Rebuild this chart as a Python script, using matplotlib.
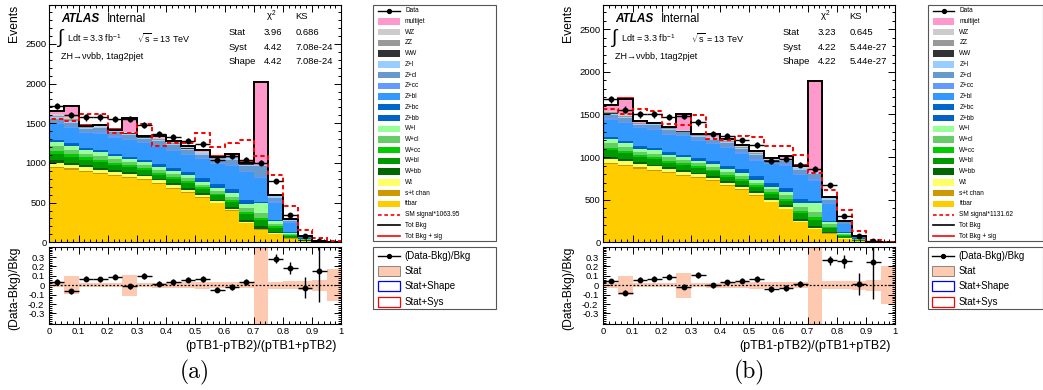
import numpy as np
import matplotlib
matplotlib.use("Agg")
import matplotlib.pyplot as plt
from matplotlib.patches import Rectangle
from matplotlib.lines import Line2D
from matplotlib.ticker import MultipleLocator, FixedLocator, FuncFormatter

plt.rcParams['font.family'] = ['Liberation Sans', 'DejaVu Sans']
plt.rcParams['mathtext.fontset'] = 'custom'
plt.rcParams['mathtext.rm'] = 'Liberation Sans'
plt.rcParams['mathtext.it'] = 'Liberation Sans:italic'
plt.rcParams['axes.unicode_minus'] = False

bin_edges = np.linspace(0, 1, 21)

# legend order (top of stack first)
samples = ["multijet", "WZ", "ZZ", "WW", "Z+l", "Z+cl", "Z+cc", "Z+bl", "Z+bc", "Z+bb",
           "W+l", "W+cl", "W+cc", "W+bl", "W+bb", "Wt", "s+t chan", "ttbar"]
colors = ["#ff99cc", "#cccccc", "#999999", "#333333", "#99ccff", "#6699cc", "#6699ff",
          "#3399ff", "#0066cc", "#0062c4", "#99ff99", "#66cc66", "#00cc00", "#009900",
          "#006600", "#ffff66", "#cc9900", "#ffcc00"]

# ---------------- panel (a) ----------------
a_data = [1720, 1603, 1574, 1574, 1549, 1549, 1478, 1365, 1323, 1282, 1240, 1031, 1085, 1040, 1002, 768, 347, 79, 12, 0]
a_ttbar = [940, 916, 888, 860, 837, 808, 780, 733, 677, 625, 564, 489, 395, 245, 160, 108, 47, 19, 3.8, 0.5]
a_stchan = [15, 15, 14, 14, 13, 13, 12, 12, 11, 10, 9, 8, 6, 4, 3, 2, 1, 0.3, 0.1, 0]
a_wt = [45, 44, 43, 41, 40, 39, 38, 35, 32, 30, 27, 23, 19, 11, 7, 5, 2, 0.7, 0.1, 0]
a_wbb = [31, 29, 26, 26, 23, 23, 22, 20, 21, 22, 19, 19, 23, 26, 30, 18, 8, 3, 0.2, 0.1]
a_wbl = [84, 77, 69, 70, 62, 61, 58, 54, 56, 58, 51, 51, 62, 70, 75, 48, 21, 8, 0.7, 0.1]
a_wcc = [36, 34, 30, 31, 27, 27, 25, 24, 25, 25, 22, 22, 27, 31, 35, 21, 9, 4, 0.3, 0.1]
a_wcl = [57, 53, 47, 48, 43, 42, 40, 37, 39, 40, 35, 35, 43, 48, 60, 33, 14, 5, 0.4, 0.1]
a_wl = [52, 47, 43, 45, 40, 37, 35, 35, 34, 35, 33, 33, 40, 45, 120, 30, 13, 5, 0.4, 0.1]
a_zbb = [18, 18, 18, 18, 18, 18, 18, 21, 24, 27, 30, 30, 33, 30, 12, 12, 6, 3, 0.6, 0.1]
a_zbc = [12, 12, 12, 12, 12, 12, 12, 14, 16, 18, 20, 20, 22, 20, 8, 8, 4, 2, 0.4, 0.1]
a_zbl = [200, 195, 190, 205, 205, 210, 210, 215, 215, 210, 240, 260, 290, 350, 296, 215, 120, 20, 2, 0.4]
a_zcc = [17, 17, 12, 16, 16, 16, 14, 18, 18, 16, 14, 12, 20, 20, 20, 16, 7, 2, 0.2, 0.05]
a_zcl = [51, 51, 36, 48, 48, 48, 42, 54, 54, 48, 42, 36, 60, 60, 130, 48, 21, 5, 0.6, 0.1]
a_zl = [17, 17, 12, 16, 16, 16, 14, 18, 18, 16, 14, 12, 20, 20, 14, 16, 7, 1, 0.2, 0.05]
a_ww = [6, 7, 3, 2, 2, 3, 2, 3, 3, 3, 3, 2, 4, 2, 2, 2, 1, 0.3, 0, 0]
a_zz = [14, 18, 7, 5, 5, 7, 5, 7, 7, 7, 7, 5, 9, 5, 3, 3, 3, 0.7, 0.1, 0.05]
a_wz = [20, 25, 10, 8, 8, 10, 8, 10, 10, 10, 10, 8, 12, 8, 5, 5, 4, 1, 0.1, 0.05]
a_multijet = [39, 139, 11, 13, 6, 175, 9, 35, 18, 9, 24, 15, 22, 10, 1040, 8, 4, 1, 0.2, 0.1]
a_signal = [1549, 1530, 1612, 1612, 1380, 1380, 1486, 1213, 1254, 1254, 1380, 1196, 1254, 1288, 1087, 852, 460, 150, 50, 12]
a_stat = [0.02, 0.095, 0.02, 0.02, 0.02, 0.11, 0.02, 0.025, 0.025, 0.03, 0.035, 0.03, 0.03, 0.03, 0.5, 0.04, 0.045, 0.05, 0.06, 0.17]
a_scale = 1063.95
a_chi2 = ["3.96", "4.42", "4.42"]
a_ks = ["0.686", "7.08e-24", "7.08e-24"]

# ---------------- panel (b) ----------------
b_data = [1680, 1555, 1500, 1500, 1469, 1484, 1406, 1273, 1250, 1195, 1145, 949, 977, 910, 863, 668, 312, 78, 10, 0]
b_ttbar = [917, 898, 865, 837, 808, 780, 752, 714, 658, 611, 545, 470, 385, 235, 155, 103, 42, 17, 2.8, 0.4]
b_stchan = [15, 15, 14, 13, 13, 13, 12, 12, 11, 10, 9, 8, 6, 4, 3, 2, 1, 0.3, 0.1, 0]
b_wt = [43, 42, 41, 40, 39, 37, 36, 34, 31, 29, 26, 22, 19, 11, 7, 5, 2, 0.7, 0.1, 0]
b_wbb = [28, 25, 22, 23, 20, 20, 19, 19, 19, 19, 18, 18, 22, 25, 28, 15, 8, 3, 0.2, 0.1]
b_wbl = [75, 65, 57, 60, 55, 54, 52, 52, 52, 52, 48, 48, 57, 67, 70, 40, 21, 7, 0.6, 0.05]
b_wcc = [33, 29, 25, 27, 24, 24, 22, 22, 22, 22, 21, 21, 25, 29, 37, 17, 9, 3, 0.3, 0.1]
b_wcl = [52, 45, 40, 42, 37, 37, 35, 35, 35, 35, 33, 33, 40, 46, 55, 28, 14, 5, 0.4, 0.1]
b_wl = [47, 41, 36, 38, 34, 35, 32, 32, 32, 32, 30, 30, 36, 43, 105, 25, 13, 4, 0.3, 0.05]
b_zbb = [18, 18, 18, 18, 18, 18, 18, 21, 24, 27, 30, 30, 30, 27, 15, 12, 6, 3, 0.4, 0.1]
b_zbc = [12, 12, 12, 12, 12, 12, 12, 14, 16, 18, 20, 20, 20, 18, 10, 8, 4, 2, 0.3, 0.1]
b_zbl = [200, 210, 210, 210, 200, 220, 200, 195, 210, 185, 180, 220, 260, 285, 235, 195, 95, 20, 1.5, 0.3]
b_zcc = [14, 14, 10, 13, 14, 10, 12, 14, 14, 14, 16, 8, 15, 16, 20, 13, 5, 2, 0.1, 0.02]
b_zcl = [42, 42, 30, 39, 42, 30, 36, 42, 42, 42, 48, 24, 45, 48, 65, 39, 17, 5, 0.4, 0.06]
b_zl = [14, 14, 10, 13, 14, 10, 12, 14, 14, 14, 16, 8, 15, 16, 15, 13, 5, 2, 0.2, 0.02]
b_ww = [4, 4, 2, 2, 2, 3, 2, 2, 2, 2, 2, 2, 2, 2, 2, 1, 1, 0.3, 0, 0]
b_zz = [11, 11, 5, 4, 4, 7, 4, 5, 5, 5, 5, 5, 5, 5, 3, 3, 2, 0.7, 0.05, 0.02]
b_wz = [15, 15, 8, 7, 6, 10, 6, 8, 8, 8, 8, 8, 8, 8, 5, 4, 2, 1, 0.05, 0.03]
b_multijet = [66, 187, 14, 6, 6, 187, 5, 38, 19, 13, 15, 14, 17, 16, 1060, 5, 2, 1, 0.2, 0.05]
b_signal = [1560, 1505, 1560, 1540, 1383, 1376, 1490, 1210, 1205, 1250, 1230, 1125, 1125, 1027, 812, 616, 379, 136, 27, 8]
b_stat = [0.025, 0.1, 0.02, 0.02, 0.02, 0.135, 0.02, 0.025, 0.025, 0.03, 0.04, 0.03, 0.03, 0.03, 0.5, 0.045, 0.045, 0.05, 0.06, 0.2]
b_scale = 1131.62
b_chi2 = ["3.23", "4.22", "4.22"]
b_ks = ["0.645", "5.44e-27", "5.44e-27"]

ratio_ticks = [-0.3, -0.2, -0.1, 0, 0.1, 0.2, 0.3]

a_comps = [a_multijet, a_wz, a_zz, a_ww, a_zl, a_zcl, a_zcc, a_zbl, a_zbc, a_zbb,
           a_wl, a_wcl, a_wcc, a_wbl, a_wbb, a_wt, a_stchan, a_ttbar]
b_comps = [b_multijet, b_wz, b_zz, b_ww, b_zl, b_zcl, b_zcc, b_zbl, b_zbc, b_zbb,
           b_wl, b_wcl, b_wcc, b_wbl, b_wbb, b_wt, b_stchan, b_ttbar]

W, H = 1043, 390
fig = plt.figure(figsize=(W / 100, H / 100), dpi=100)


def px_axes(l, t, r, b):
    return fig.add_axes([l / W, 1 - b / H, (r - l) / W, (b - t) / H])


fmt = FuncFormatter(lambda v, p: "0" if abs(v) < 1e-9 else "%g" % round(v, 3))
peach = "#fdc9b1"


def style(ax):
    ax.tick_params(which="both", direction="in", top=True, right=True, width=0.7,
                   labelsize=6.8, pad=2)
    ax.tick_params(which="major", length=5)
    ax.tick_params(which="minor", length=2.5)
    for s in ax.spines.values():
        s.set_linewidth(0.8)


def draw_panel(x0, comps, data, signal, stat, scale, ymax):
    ax = px_axes(x0, 5, x0 + 292, 242.3)
    axr = px_axes(x0, 246.7, x0 + 292, 324.3)
    centers = (bin_edges[:-1] + bin_edges[1:]) / 2
    data = np.array(data, dtype=float)
    bottom = np.zeros(len(centers))
    for vals, c in reversed(list(zip(comps, colors))):
        top = bottom + np.array(vals, dtype=float)
        ax.stairs(top, bin_edges, baseline=bottom, fill=True, color=c, lw=0,
                  antialiased=False)
        bottom = top
    total = bottom
    sig = np.array(signal, dtype=float)
    ax.stairs(total + sig / scale, bin_edges, color="red", lw=1.3, baseline=0)
    ax.stairs(total, bin_edges, color="black", lw=1.4, baseline=0)
    ax.stairs(sig, bin_edges, color="red", lw=1.4, ls=(0, (2.2, 1.6)), baseline=0)
    m = data > 0
    ax.errorbar(centers[m], data[m], xerr=0.025, yerr=np.sqrt(data[m]), fmt="o",
                color="black", ms=3.2, elinewidth=1.0, capsize=0, zorder=5)
    ax.set_xlim(0, 1)
    ax.set_ylim(0, ymax)
    ax.xaxis.set_major_locator(MultipleLocator(0.1))
    ax.xaxis.set_minor_locator(MultipleLocator(0.02))
    ax.yaxis.set_major_locator(MultipleLocator(500))
    ax.yaxis.set_minor_locator(MultipleLocator(100))
    ax.yaxis.set_major_formatter(fmt)
    style(ax)
    ax.tick_params(labelbottom=False)

    st = np.array(stat)
    axr.bar(centers, 2 * st, bottom=-st, width=0.05, color=peach, lw=0)
    axr.axhline(0, color="black", lw=0.9, ls=(0, (1.5, 1.5)))
    ratio = data[m] / total[m] - 1
    rerr = np.sqrt(data[m]) / total[m]
    axr.errorbar(centers[m], ratio, xerr=0.025, yerr=rerr, fmt="o", color="black",
                 ms=3.2, elinewidth=1.0, capsize=0, zorder=5)
    axr.set_xlim(0, 1)
    axr.set_ylim(-0.415, 0.41)
    axr.xaxis.set_major_locator(MultipleLocator(0.1))
    axr.xaxis.set_minor_locator(MultipleLocator(0.02))
    axr.yaxis.set_major_locator(FixedLocator(ratio_ticks))
    axr.yaxis.set_minor_locator(MultipleLocator(0.02))
    axr.xaxis.set_major_formatter(fmt)
    axr.yaxis.set_major_formatter(fmt)
    style(axr)
    axr.tick_params(axis="y", pad=3.5)
    return ax, axr


draw_panel(49.3, a_comps, a_data, a_signal, a_stat, a_scale, 2990)
draw_panel(603.3, b_comps, b_data, b_signal, b_stat, b_scale, 2785)

ov = fig.add_axes([0, 0, 1, 1])
ov.set_xlim(0, W)
ov.set_ylim(H, 0)
ov.axis("off")


def annotate(x0, chi2, ks, caption):
    ov.text(x0 - 35.5, 5, "Events", rotation=90, ha="center", va="top", fontsize=8.7)
    ov.text(x0 - 35, 247, "(Data-Bkg)/Bkg", rotation=90, ha="center", va="top", fontsize=8.7)
    ov.text(x0 + 12.4, 19.5, "ATLAS", fontsize=8.5, weight="bold", style="italic", va="center")
    ov.text(x0 + 58, 19.5, "Internal", fontsize=8.5, va="center")
    ov.text(x0 + 9, 38, "\u222b", fontsize=14, va="center")
    ov.text(x0 + 17.4, 38.3, r"Ldt = 3.3 fb$^{\mathrm{-1}}$", fontsize=6.5, va="center")
    ov.text(x0 + 88, 38.3, r"$\sqrt{\mathrm{s}}$ = 13 TeV", fontsize=6.5, va="center")
    ov.text(x0 + 11.4, 56.5, "ZH\u2192\u03bd\u03bdbb, 1tag2pjet", fontsize=6.5, va="center")
    ov.text(x0 + 217, 16.7, "\u03c7$^{2}$", fontsize=6.8, va="center")
    ov.text(x0 + 246, 16.7, "KS", fontsize=6.8, va="center")
    for i, row in enumerate(["Stat", "Syst", "Shape"]):
        y = 32.3 + i * 14.7
        ov.text(x0 + 179.5, y, row, fontsize=6.8, va="center")
        ov.text(x0 + 214.5, y, chi2[i], fontsize=6.8, va="center")
        ov.text(x0 + 246, y, ks[i], fontsize=6.8, va="center")
    ov.text(x0 + 287.5, 345.7, "(pTB1-pTB2)/(pTB1+pTB2)", fontsize=9, ha="right", va="center")
    ov.text(x0 + 146, 372, caption, fontsize=17, family="cmr10", ha="center", va="center")


def legends(xl, xr, scale):
    ov.add_patch(Rectangle((xl, 5), xr - xl, 236, fill=False, ec="#555555", lw=0.8))
    p0, p1 = xl + 5, xl + 26.7
    names = ["Data"] + samples + ["SM signal*%.2f" % scale, "Tot Bkg", "Tot Bkg + sig"]
    for i, name in enumerate(names):
        yc = 10.7 + i * 10.73
        if name == "Data":
            ov.add_line(Line2D([p0, p1], [yc, yc], color="black", lw=1))
            ov.plot([(p0 + p1) / 2], [yc], "o", color="black", ms=2.8)
        elif i <= len(samples):
            ov.add_patch(Rectangle((p0, yc - 3.2), p1 - p0, 6.4, color=colors[i - 1], lw=0))
        elif name.startswith("SM"):
            ov.add_line(Line2D([p0, p1], [yc, yc], color="red", lw=1.2, ls=(0, (2.2, 1.6))))
        elif name == "Tot Bkg":
            ov.add_line(Line2D([p0, p1], [yc, yc], color="black", lw=1.2))
        else:
            ov.add_line(Line2D([p0, p1], [yc, yc], color="red", lw=1.2))
        ov.text(xl + 31.7, yc, name, fontsize=4.7, va="center")

    ov.add_patch(Rectangle((xl, 247.3), xr - xl, 62, fill=False, ec="#555555", lw=0.8))
    r0, r1 = xl + 4.7, xl + 26.7
    rnames = ["(Data-Bkg)/Bkg", "Stat", "Stat+Shape", "Stat+Sys"]
    for i, name in enumerate(rnames):
        yc = 255.7 + i * 15.3
        if i == 0:
            ov.add_line(Line2D([r0, r1], [yc, yc], color="black", lw=1))
            ov.plot([(r0 + r1) / 2], [yc], "o", color="black", ms=2.8)
        elif i == 1:
            ov.add_patch(Rectangle((r0, yc - 5), r1 - r0, 10, fc=peach, ec="#777777", lw=0.6))
        elif i == 2:
            ov.add_patch(Rectangle((r0, yc - 5), r1 - r0, 10, fc="white", ec="#0000ff", lw=0.9))
        else:
            ov.add_patch(Rectangle((r0, yc - 5), r1 - r0, 10, fc="white", ec="#ff0000", lw=0.9))
        ov.text(xl + 31, yc, name, fontsize=7, va="center")


annotate(49.3, a_chi2, a_ks, "(a)")
annotate(603.3, b_chi2, b_ks, "(b)")
legends(373.3, 496, a_scale)
legends(927.7, 1042.5, b_scale)

fig.savefig("out.png", dpi=100)
